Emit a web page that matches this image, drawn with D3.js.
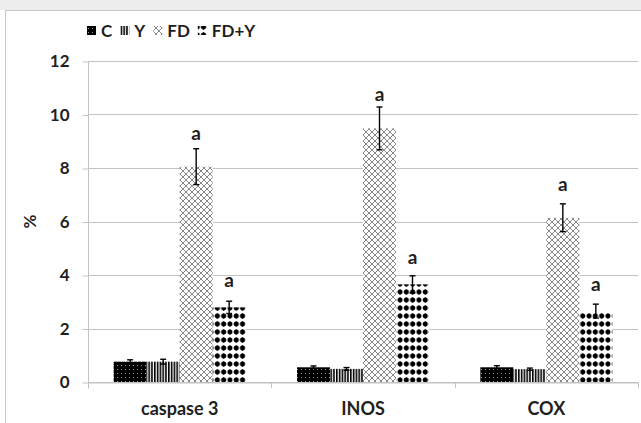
<!DOCTYPE html>
<html>
<head>
<meta charset="utf-8">
<script src="https://cdn.jsdelivr.net/npm/d3@7"></script>
<style>
  body { margin: 0; background: #fff; }
  svg { display: block; font-family: Lato, "Open Sans", sans-serif; font-weight: bold; }
</style>
</head>
<body>
<svg id="chart" width="641" height="423"></svg>
<script>
const categories = ['caspase 3', 'INOS', 'COX'];
const seriesNames = ['C', 'Y', 'FD', 'FD+Y'];
const valuesC = [0.76, 0.55, 0.55];
const valuesY = [0.76, 0.49, 0.48];
const valuesFD = [8.05, 9.48, 6.14];
const valuesFDY = [2.79, 3.65, 2.65];
const errC = [0.07, 0.05, 0.06];
const errY = [0.09, 0.05, 0.04];
const errFD = [0.67, 0.8, 0.52];
const errFDY = [0.23, 0.32, 0.26];
const sigLabels = [null, null, 'a', 'a'];
const yTicks = [0, 2, 4, 6, 8, 10, 12];

const values = [valuesC, valuesY, valuesFD, valuesFDY];
const errors = [errC, errY, errFD, errFDY];

const rows = [];
seriesNames.forEach((s, si) => {
    categories.forEach((c, ci) => {
        rows.push({ series: s, si, cat: c, v: values[si][ci], e: errors[si][ci], label: sigLabels[si] });
    });
});

const svg = d3.select('#chart');
const dim = { left: 88, right: 638, top: 61, bottom: 382 };
const textColor = '#1f1f1f';
const gridColor = '#c3c3c3';

// frame
svg.append('rect').attr('x', 0).attr('y', 0).attr('width', 641).attr('height', 10).attr('fill', '#ededed');
svg.append('rect').attr('x', 5.5).attr('y', 10.5).attr('width', 700).attr('height', 500)
    .attr('fill', '#fff').attr('stroke', '#c8c8c8');

// patterns
const defs = svg.append('defs');
const pC = defs.append('pattern').attr('id', 'pat-C').attr('patternUnits', 'userSpaceOnUse')
    .attr('width', 4).attr('height', 4);
pC.append('rect').attr('width', 4).attr('height', 4).attr('fill', '#000');
pC.append('rect').attr('x', 1).attr('y', 1).attr('width', 1).attr('height', 1).attr('fill', '#9a9a9a');

const pY = defs.append('pattern').attr('id', 'pat-Y').attr('patternUnits', 'userSpaceOnUse')
    .attr('width', 2.8).attr('height', 10);
pY.append('rect').attr('width', 2.8).attr('height', 10).attr('fill', '#fff');
pY.append('rect').attr('width', 1.6).attr('height', 10).attr('fill', '#000');

const pFD = defs.append('pattern').attr('id', 'pat-FD').attr('patternUnits', 'userSpaceOnUse')
    .attr('width', 6).attr('height', 6);
pFD.append('rect').attr('width', 6).attr('height', 6).attr('fill', '#fff');
pFD.append('path').attr('d', 'M0,0L6,6M6,0L0,6M-1,5L1,7M5,-1L7,1M-1,1L1,-1M5,7L7,5')
    .attr('stroke', '#7a7a7a').attr('stroke-width', 0.9).attr('fill', 'none');

const pFDY = defs.append('pattern').attr('id', 'pat-FDY').attr('patternUnits', 'userSpaceOnUse')
    .attr('width', 6.3).attr('height', 8);
pFDY.append('rect').attr('width', 6.3).attr('height', 8).attr('fill', '#fff');
pFDY.append('path').attr('d', 'M3.15,0.9L5.9,4L3.15,7.1L0.4,4Z').attr('fill', '#000');
pFDY.append('circle').attr('cx', 3.15).attr('cy', 4).attr('r', 2.4).attr('fill', '#000');

const fillFor = { 'C': 'url(#pat-C)', 'Y': 'url(#pat-Y)', 'FD': 'url(#pat-FD)', 'FD+Y': 'url(#pat-FDY)' };
const labelGap = { 'FD': 27, 'FD+Y': 20 };

// scales
const x0 = d3.scaleBand().domain(categories).range([dim.left, dim.right]).paddingInner(0).paddingOuter(0);
const groupPad = 0.28;
const x1 = d3.scaleBand().domain(seriesNames)
    .range([x0.bandwidth() * groupPad / 2, x0.bandwidth() * (1 - groupPad / 2)]);
const y = d3.scaleLinear().domain([0, 12]).range([dim.bottom, dim.top]);

// gridlines
svg.append('g').selectAll('line').data(yTicks).join('line')
    .attr('x1', dim.left).attr('x2', dim.right)
    .attr('y1', d => Math.round(y(d)) + 0.5).attr('y2', d => Math.round(y(d)) + 0.5)
    .attr('stroke', gridColor);

// y axis
const yAxis = d3.axisLeft(y).tickValues(yTicks).tickSize(6).tickPadding(13);
const gy = svg.append('g').attr('transform', `translate(${dim.left + 0.5},0.5)`).call(yAxis);
gy.select('.domain').attr('d', `M0,${dim.top}V${dim.bottom + 6}`).attr('stroke', gridColor);
gy.selectAll('.tick line').attr('stroke', gridColor);
gy.selectAll('.tick text').attr('fill', textColor).style('font-size', '17px').style('font-family', 'Lato, sans-serif').style('font-weight', 'bold');

// x axis
const xAxis = d3.axisBottom(x0).tickSize(0).tickPadding(20);
const gx = svg.append('g').attr('transform', `translate(0,${Math.round(y(0)) + 0.5})`).call(xAxis);
gx.select('.domain').attr('stroke', gridColor);
gx.selectAll('.tick text').attr('fill', textColor).style('font-size', '18px').style('font-family', 'Lato, sans-serif').style('font-weight', 'bold');
svg.append('g').selectAll('line').data(categories).join('line')
    .attr('x1', d => Math.round(x0(d) + x0.bandwidth()) + 0.5)
    .attr('x2', d => Math.round(x0(d) + x0.bandwidth()) + 0.5)
    .attr('y1', y(0)).attr('y2', y(0) + 6).attr('stroke', gridColor);

// y title
svg.append('text').attr('transform', `translate(36,${(dim.top + dim.bottom) / 2}) rotate(-90)`)
    .attr('text-anchor', 'middle').attr('fill', textColor).style('font-size', '17px').text('%');

// bars
svg.append('g').selectAll('rect').data(rows).join('rect')
    .attr('x', d => x0(d.cat) + x1(d.series))
    .attr('width', x1.bandwidth())
    .attr('y', d => y(d.v))
    .attr('height', d => y(0) - y(d.v))
    .attr('fill', d => fillFor[d.series]);

// error bars
const eb = svg.append('g').attr('stroke', '#000').attr('stroke-width', 1.4);
rows.forEach(d => {
    const cx = x0(d.cat) + x1(d.series) + x1.bandwidth() / 2;
    eb.append('line').attr('x1', cx).attr('x2', cx).attr('y1', y(d.v - d.e)).attr('y2', y(d.v + d.e));
    eb.append('line').attr('x1', cx - 3).attr('x2', cx + 3).attr('y1', y(d.v + d.e)).attr('y2', y(d.v + d.e));
    eb.append('line').attr('x1', cx - 3).attr('x2', cx + 3).attr('y1', y(d.v - d.e)).attr('y2', y(d.v - d.e));
});

// significance labels
svg.append('g').selectAll('text').data(rows.filter(d => d.label)).join('text')
    .attr('x', d => x0(d.cat) + x1(d.series) + x1.bandwidth() / 2)
    .attr('y', d => y(d.v) - labelGap[d.series])
    .attr('text-anchor', 'middle').attr('fill', textColor).style('font-size', '19px')
    .text(d => d.label);

// legend
const legend = svg.append('g').attr('transform', 'translate(87,31)');
let lx = 0;
seriesNames.forEach(s => {
    legend.append('rect').attr('x', lx).attr('y', -5).attr('width', 9).attr('height', 9)
        .attr('fill', fillFor[s]);
    const t = legend.append('text').attr('x', lx + 14).attr('y', 5.5).attr('fill', textColor)
        .style('font-size', '17px').text(s);
    lx += 14 + t.node().getComputedTextLength() + 8;
});
</script>
</body>
</html>
